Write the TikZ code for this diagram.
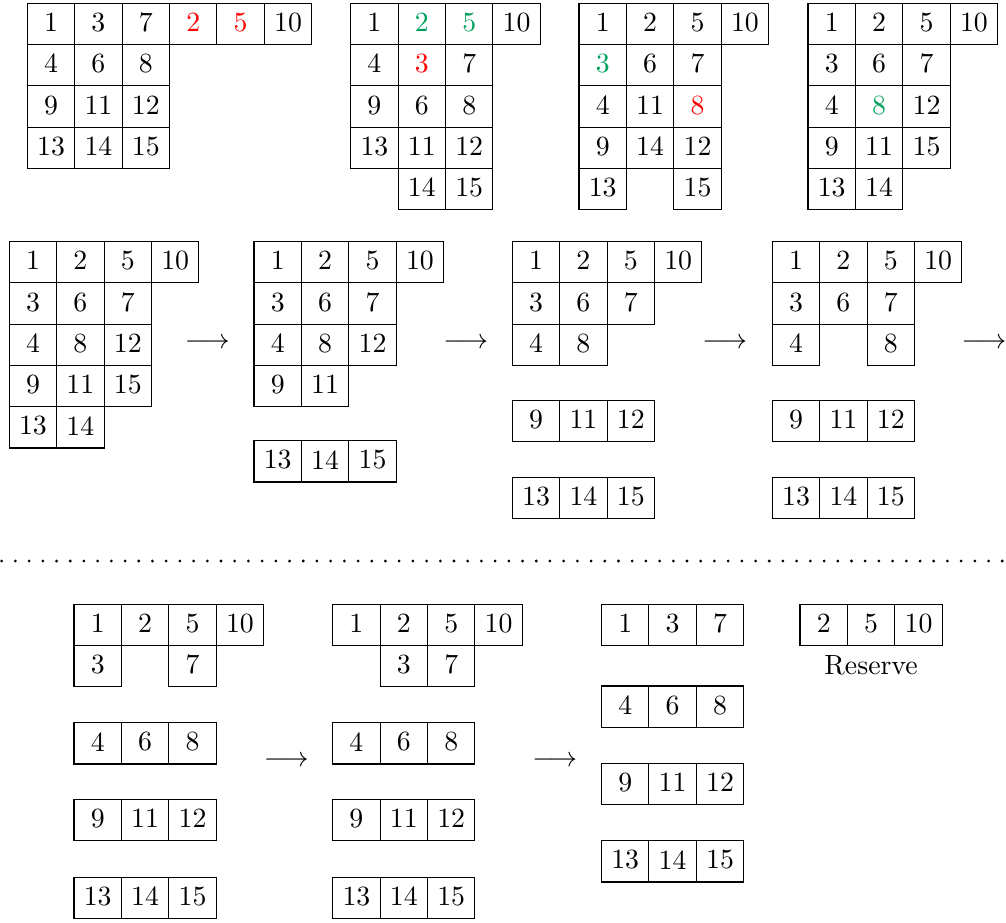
\documentclass[tikz,border=0pt]{standalone}
\usepackage{xcolor}
\usetikzlibrary{positioning}

\definecolor{rot}{RGB}{255,0,0}
\definecolor{gruen}{RGB}{0,160,90}

\newcommand{\rt}[1]{\textcolor{rot}{#1}}
\newcommand{\gn}[1]{\textcolor{gruen}{#1}}

% Feldbreite und Feldhoehe (in px)
\newcommand{\feldb}{47.4}
\newcommand{\feldh}{41.3}

\tikzset{
    feld/.style={draw, line width=0.4pt, anchor=north west, inner sep=0pt, outer sep=0pt,
        minimum width={\feldb*0.3597pt}, minimum height={\feldh*0.3597pt}, text depth=1.2pt},
    pfeil/.style={inner sep=0pt},
    punkte/.style={line width=1.1pt, line cap=round, dash pattern=on 0pt off 4.93pt}
}

% #1 Name, #2 x, #3 y (links oben), #4 Zeilen
\newcommand{\tableau}[4]{%
    \foreach \zeile [count=\r] in {#4} {
        \foreach \w [count=\i] in \zeile {
            \if\relax\detokenize\expandafter{\w}\relax\else
                \node[feld] (#1-\r-\i) at ({#2+(\i-1)*\feldb},{#3+(\r-1)*\feldh}) {\w};
            \fi
        }
    }
}

\begin{document}
\begin{tikzpicture}[x=0.3597pt, y=-0.3597pt]
    \useasboundingbox (0,0) rectangle (1006,922);

    % obere Reihe
    \tableau{t1}{27.3}{3.3}{{1,3,7,\rt{2},\rt{5},10},{4,6,8},{9,11,12},{13,14,15}}
    \tableau{t2}{350.7}{3.3}{{1,\gn{2},\gn{5},10},{4,\rt{3},7},{9,6,8},{13,11,12},{,14,15}}
    \tableau{t3}{579}{3.3}{{1,2,5,10},{\gn{3},6,7},{4,11,\rt{8}},{9,14,12},{13,,15}}
    \tableau{t4}{808}{3.3}{{1,2,5,10},{3,6,7},{4,\gn{8},12},{9,11,15},{13,14}}

    % mittlere Reihe
    \tableau{t5}{9.3}{241.5}{{1,2,5,10},{3,6,7},{4,8,12},{9,11,15},{13,14}}
    \node[pfeil] (p1) at (207.3,343.3) {$\longrightarrow$};
    \tableau{t6}{254}{241.5}{{1,2,5,10},{3,6,7},{4,8,12},{9,11}}
    \tableau{t6a}{254}{440.7}{{13,14,15}}
    \node[pfeil] (p2) at (465.8,343.3) {$\longrightarrow$};
    \tableau{t7}{512.3}{241.5}{{1,2,5,10},{3,6,7},{4,8}}
    \tableau{t7a}{512.3}{400.3}{{9,11,12}}
    \tableau{t7b}{512.3}{477.3}{{13,14,15}}
    \node[pfeil] (p3) at (724.7,343.3) {$\longrightarrow$};
    \tableau{t8}{772.3}{241.5}{{1,2,5,10},{3,6,7},{4,,8}}
    \tableau{t8a}{772.3}{400.3}{{9,11,12}}
    \tableau{t8b}{772.3}{477.3}{{13,14,15}}
    \node[pfeil] (p4) at (984,343.3) {$\longrightarrow$};

    \draw[punkte] (1.7,561) -- (1006,561);

    % untere Reihe
    \tableau{t9}{74}{604.3}{{1,2,5,10},{3,,7}}
    \tableau{t9a}{74}{722.7}{{4,6,8}}
    \tableau{t9b}{74}{799.3}{{9,11,12}}
    \tableau{t9c}{74}{877.3}{{13,14,15}}
    \node[pfeil] (p5) at (286.2,761.7) {$\longrightarrow$};
    \tableau{t10}{332.7}{604.3}{{1,2,5,10},{,3,7}}
    \tableau{t10a}{332.7}{722.7}{{4,6,8}}
    \tableau{t10b}{332.7}{799.3}{{9,11,12}}
    \tableau{t10c}{332.7}{877.3}{{13,14,15}}
    \node[pfeil] (p6) at (554.7,761.7) {$\longrightarrow$};
    \tableau{t11}{601.5}{604.3}{{1,3,7}}
    \tableau{t11a}{601.5}{686}{{4,6,8}}
    \tableau{t11b}{601.5}{763.3}{{9,11,12}}
    \tableau{t11c}{601.5}{840.7}{{13,14,15}}

    \tableau{res}{800}{604.3}{{2,5,10}}
    \node[below=0pt of res-1-2] (reserve) {Reserve};
\end{tikzpicture}
\end{document}
